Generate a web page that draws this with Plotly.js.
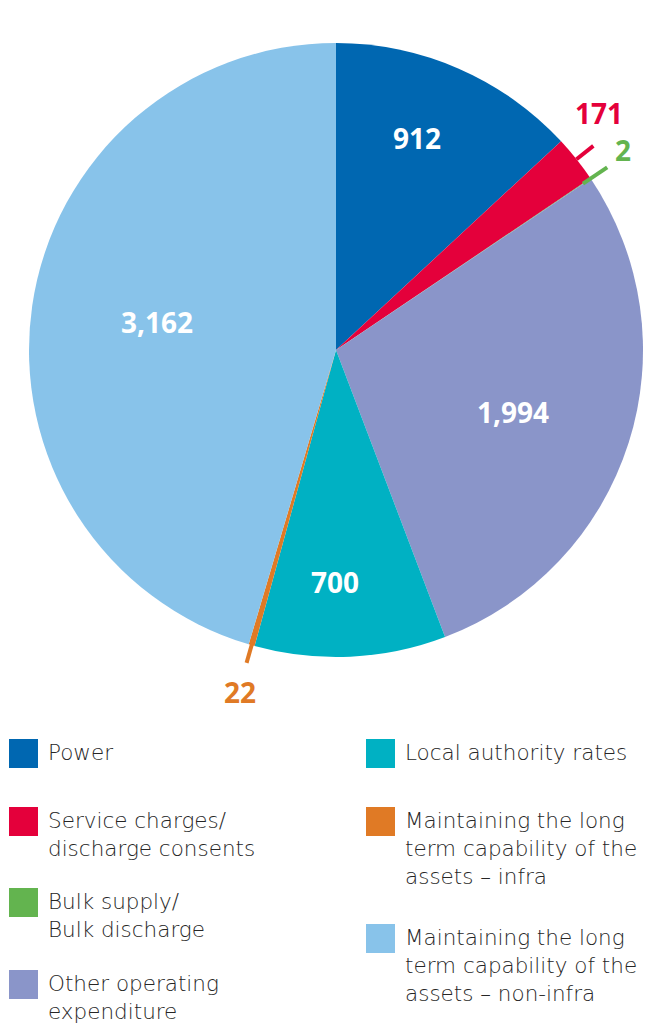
<!DOCTYPE html>
<html>
<head>
<meta charset="utf-8">
<script src="https://cdn.plot.ly/plotly-3.0.1.min.js"></script>
<style>html,body{margin:0;padding:0;background:#fff;}#chart{width:649px;height:1025px;}</style>
</head>
<body>
<div id="chart"></div>
<script>
// ---- data ----
var categories = [
  "Power",
  "Service charges/<br>discharge consents",
  "Bulk supply/<br>Bulk discharge",
  "Other operating<br>expenditure",
  "Local authority rates",
  "Maintaining the long<br>term capability of the<br>assets – infra",
  "Maintaining the long<br>term capability of the<br>assets – non-infra"
];
var values = [912, 171, 2, 1994, 700, 22, 3162];
var valueLabels = ["912", "171", "2", "1,994", "700", "22", "3,162"];
var colors = ["#0067b1", "#e4003b", "#63b44f", "#8a95c9", "#00b1c3", "#e07a25", "#88c3ea"];

// ---- style / placement (not data) ----
var W = 649, H = 1025;
var cx = 336, cy = 350, R = 307;
var labelStyle = [
  {inside: true,  r: 0.74,  da: -2.6},
  {inside: false, r: 1.153, da: -3.6, l0: 1.0, l1: 1.07},
  {inside: false, r: 1.14,  da: -0.9, l0: 0.97, l1: 1.065},
  {inside: true,  r: 0.61,  da: 1.8},
  {inside: true,  r: 0.755, da: 2.9},
  {inside: false, r: 1.156, da: -0.3, l0: 0.99, l1: 1.06},
  {inside: true,  r: 0.59,  da: 0.6}
];
// legend placement: column, top pixel of swatch
var legendPos = [
  {col: 0, top: 739}, {col: 0, top: 807}, {col: 0, top: 888}, {col: 0, top: 970},
  {col: 1, top: 739}, {col: 1, top: 807}, {col: 1, top: 924}
];
var colX = [9, 366];
var sw = 29;

function px(x) { return x / W; }
function py(y) { return (H - y) / H; }

var total = values.reduce(function(a, b) { return a + b; }, 0);
var annotations = [];
var shapes = [];
var cum = 0;
for (var i = 0; i < values.length; i++) {
  var a0 = cum / total * 360;
  cum += values[i];
  var a1 = cum / total * 360;
  var mid = (a0 + a1) / 2;
  var st = labelStyle[i];
  var ang = (mid + st.da) * Math.PI / 180;
  var lx = cx + st.r * R * Math.sin(ang);
  var ly = cy - st.r * R * Math.cos(ang);
  annotations.push({
    xref: 'paper', yref: 'paper', x: px(lx), y: py(ly),
    xanchor: 'center', yanchor: 'middle', showarrow: false,
    text: valueLabels[i],
    font: {family: 'Open Sans, sans-serif', size: 28, weight: 700, color: st.inside ? '#ffffff' : colors[i]}
  });
  if (!st.inside) {
    var ma = mid * Math.PI / 180;
    shapes.push({
      type: 'line', xref: 'paper', yref: 'paper',
      x0: px(cx + st.l0 * R * Math.sin(ma)), y0: py(cy - st.l0 * R * Math.cos(ma)),
      x1: px(cx + st.l1 * R * Math.sin(ma)), y1: py(cy - st.l1 * R * Math.cos(ma)),
      line: {color: colors[i], width: 4}
    });
  }
}

// manual two-column legend
for (var j = 0; j < categories.length; j++) {
  var lp = legendPos[j];
  var x0 = colX[lp.col];
  shapes.push({
    type: 'rect', xref: 'paper', yref: 'paper',
    x0: px(x0), x1: px(x0 + sw), y0: py(lp.top), y1: py(lp.top + sw),
    fillcolor: colors[j], line: {width: 0}
  });
  annotations.push({
    xref: 'paper', yref: 'paper', x: px(x0 + 37), y: py(lp.top + sw / 2 - 15.5),
    xanchor: 'left', yanchor: 'top', align: 'left', showarrow: false,
    text: categories[j],
    font: {family: 'DejaVu Sans, sans-serif', size: 21.5, weight: 300, color: '#262626'}
  });
}

var trace = {
  type: 'pie',
  values: values,
  labels: categories,
  sort: false,
  direction: 'clockwise',
  rotation: 0,
  marker: {colors: colors, line: {width: 0}},
  textinfo: 'none',
  hoverinfo: 'skip',
  showlegend: false,
  domain: {x: [px(cx - R), px(cx + R)], y: [py(cy + R), py(cy - R)]}
};

var layout = {
  width: W, height: H,
  margin: {l: 0, r: 0, t: 0, b: 0},
  paper_bgcolor: '#ffffff',
  showlegend: false,
  annotations: annotations,
  shapes: shapes
};

Plotly.newPlot('chart', [trace], layout, {displayModeBar: false, staticPlot: true});
</script>
</body>
</html>
